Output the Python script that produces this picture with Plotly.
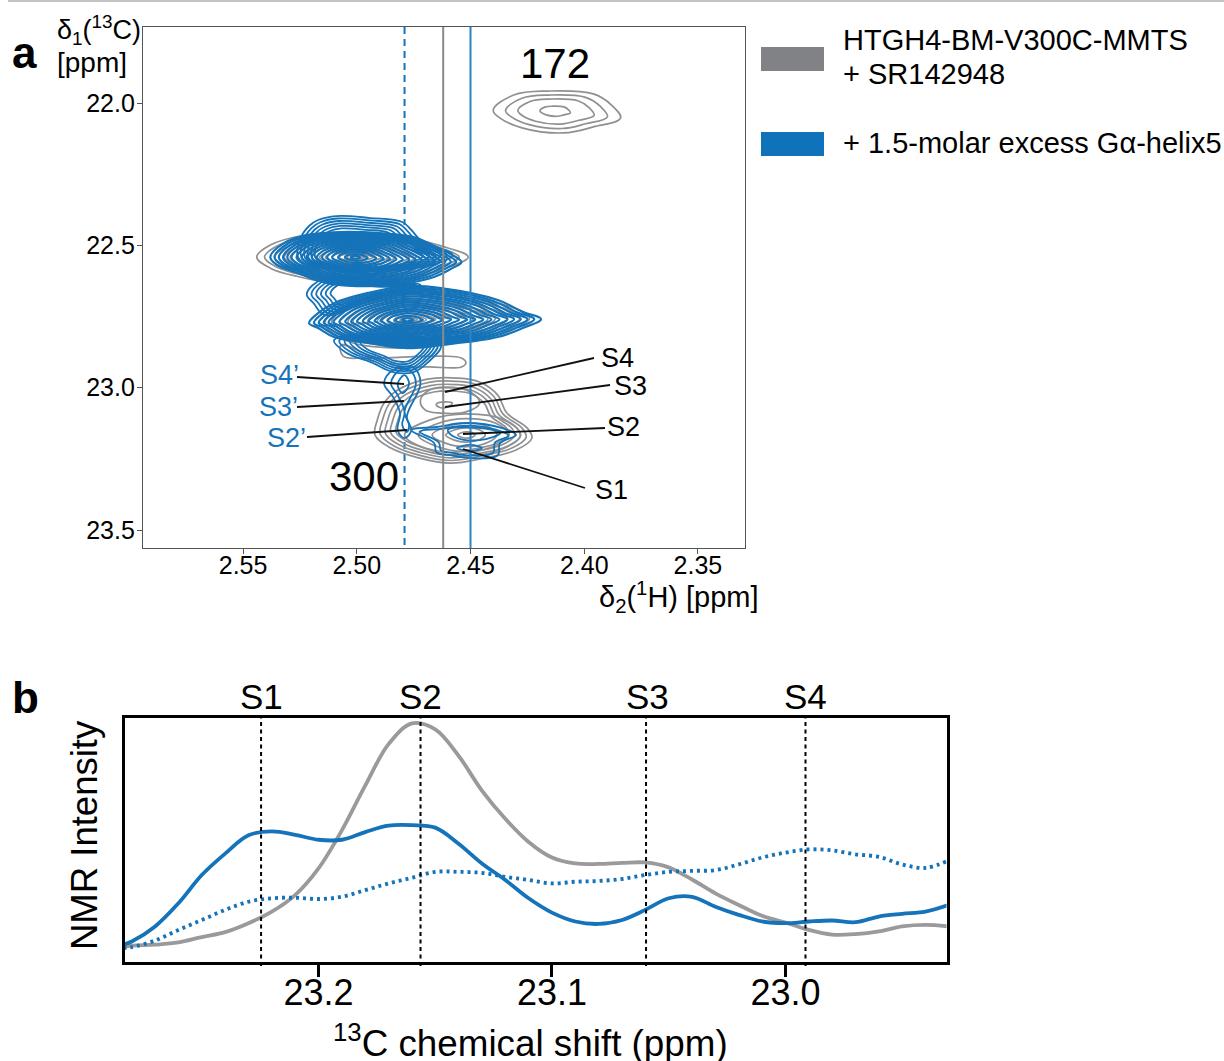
import plotly.graph_objects as go

W, H = 1224, 1061
GREY = "#8f9093"
BLUE = "#1473b9"
FONT = "Liberation Sans, Arial, sans-serif"

# ---------- panel b: 1D traces ----------
shift_ppm = [23.2837, 23.28, 23.27, 23.26, 23.25, 23.24, 23.23, 23.22, 23.21, 23.20,
             23.19, 23.18, 23.17, 23.16, 23.15, 23.14, 23.13, 23.12, 23.11, 23.10,
             23.09, 23.08, 23.07, 23.06, 23.05, 23.04, 23.03, 23.02, 23.01, 23.00,
             22.99, 22.98, 22.97, 22.96, 22.95, 22.94, 22.930]
grey_intensity = [6.4, 7.0, 7.4, 8.3, 10.5, 12.5, 16.1, 20.8, 27.5, 38.3,
                  53.7, 71.8, 88.6, 97.0, 94.6, 83.9, 69.8, 58.4, 49.0, 42.7,
                  40.3, 40.1, 40.5, 40.7, 38.7, 33.8, 28.2, 23.5, 19.1, 16.4,
                  13.4, 11.5, 11.7, 12.8, 14.8, 15.4, 14.8]
blue_intensity = [7.4, 8.7, 14.8, 24.2, 35.6, 44.3, 51.7, 53.3, 51.9, 49.9,
                  49.9, 53.0, 55.6, 55.8, 54.8, 48.3, 40.3, 33.6, 26.2, 20.4,
                  16.8, 15.8, 17.4, 21.5, 26.2, 26.8, 22.8, 19.5, 16.8, 16.1,
                  16.8, 17.2, 16.5, 18.8, 19.9, 20.8, 23.5]
dotted_intensity = [6.0, 6.4, 9.1, 13.4, 17.4, 21.5, 24.8, 26.2, 26.4, 25.9,
                    26.8, 29.5, 32.2, 34.5, 36.9, 36.9, 36.5, 34.9, 33.6, 32.2,
                    32.9, 33.2, 34.0, 35.6, 36.9, 37.3, 37.6, 39.9, 42.7, 44.7,
                    46.0, 45.6, 44.0, 43.0, 39.9, 38.5, 41.6]
site_names = ["S1", "S2", "S3", "S4"]
site_shifts = [23.2246, 23.1563, 23.0597, 22.9914]

# ---------- panel a: contour outlines ----------
body_levels = [1, .95, .90, .85, .80, .75, .69, .63, .57, .51, .45, .39, .33, .27, .20, .12, .05]
grey_body_levels = [1, .92, .82, .72, .66, .54, .48, .36, .30, .235, .16, .085]
wisp_levels = [1, .94, .88, .82, .76, .70]
mid_levels = [1, .92, .84, .76, .68, .60]
outer_s_levels = [1, .93, .86, .79, .72]
lower_s_levels = [1, .78, .56, .34, .15]
peak172_levels = [1, .8, .6, .24]
single = [1]

peak172_h = [2.440, 2.431, 2.416, 2.396, 2.388, 2.384, 2.396, 2.409, 2.427, 2.437]
peak172_c = [22.025, 21.972, 21.958, 21.968, 22.007, 22.053, 22.084, 22.105, 22.088, 22.053]

grey_a_h = [2.544, 2.538, 2.525, 2.503, 2.481, 2.463, 2.451, 2.461, 2.481, 2.503, 2.525, 2.538]
grey_a_c = [22.541, 22.499, 22.467, 22.453, 22.467, 22.502, 22.541, 22.580, 22.622, 22.639, 22.611, 22.580]
grey_b_h = [2.514, 2.505, 2.481, 2.455, 2.424, 2.455, 2.481, 2.505]
grey_b_c = [22.773, 22.710, 22.664, 22.674, 22.755, 22.840, 22.861, 22.833]
grey_tail_h = [2.507, 2.506, 2.496, 2.463, 2.454, 2.452, 2.454, 2.468, 2.481, 2.492]
grey_tail_c = [22.850, 22.889, 22.896, 22.889, 22.896, 22.913, 22.927, 22.927, 22.924, 22.896]
grey_s_h = [2.492, 2.491, 2.488, 2.482, 2.469, 2.456, 2.446, 2.438, 2.434, 2.425, 2.423, 2.430, 2.444, 2.459, 2.474, 2.485]
grey_s_c = [23.166, 23.114, 23.054, 23.008, 22.970, 22.966, 22.980, 23.026, 23.089, 23.142, 23.177, 23.219, 23.247, 23.265, 23.244, 23.212]
grey_low_h = [2.479, 2.468, 2.452, 2.435, 2.428, 2.435, 2.452, 2.468]
grey_low_c = [23.166, 23.114, 23.092, 23.114, 23.166, 23.212, 23.240, 23.219]
grey_up_h = [2.472, 2.468, 2.461, 2.450, 2.446, 2.452, 2.463, 2.470]
grey_up_c = [23.043, 23.008, 22.998, 23.015, 23.054, 23.085, 23.089, 23.078]
grey_s3_h = [2.465, 2.461, 2.458, 2.460, 2.464]
grey_s3_c = [23.057, 23.050, 23.054, 23.068, 23.068]

blue_a_h = [2.538, 2.532, 2.522, 2.507, 2.490, 2.475, 2.465, 2.458, 2.454, 2.458, 2.466, 2.481, 2.500, 2.515, 2.526, 2.535]
blue_a_c = [22.541, 22.492, 22.464, 22.453, 22.457, 22.471, 22.506, 22.534, 22.559, 22.580, 22.611, 22.636, 22.643, 22.629, 22.597, 22.569]
blue_b_h = [2.521, 2.517, 2.510, 2.495, 2.478, 2.463, 2.438, 2.427, 2.419, 2.427, 2.438, 2.463, 2.478, 2.495, 2.510, 2.517]
blue_b_c = [22.773, 22.738, 22.703, 22.667, 22.643, 22.650, 22.692, 22.734, 22.759, 22.790, 22.822, 22.850, 22.861, 22.843, 22.822, 22.790]
blue_top_h = [2.525, 2.521, 2.517, 2.509, 2.494, 2.480, 2.476, 2.472, 2.458, 2.481, 2.525]
blue_top_c = [22.481, 22.432, 22.411, 22.397, 22.404, 22.418, 22.446, 22.481, 22.534, 22.587, 22.552]
blue_mid_h = [2.514, 2.522, 2.519, 2.514, 2.494, 2.472, 2.488]
blue_mid_c = [22.615, 22.671, 22.703, 22.745, 22.692, 22.639, 22.632]
blue_low_h = [2.510, 2.505, 2.493, 2.484, 2.475, 2.469, 2.463, 2.481]
blue_low_c = [22.833, 22.875, 22.913, 22.945, 22.945, 22.913, 22.850, 22.815]
blue_col1_h = [2.484, 2.488, 2.484, 2.481, 2.482, 2.479, 2.476, 2.478, 2.472, 2.475]
blue_col1_c = [22.938, 22.984, 23.033, 23.089, 23.149, 23.177, 23.149, 23.103, 22.984, 22.931]
blue_col2_h = [2.481, 2.485, 2.482, 2.479, 2.480, 2.478, 2.477, 2.479, 2.474, 2.477]
blue_col2_c = [22.938, 22.984, 23.026, 23.085, 23.131, 23.156, 23.131, 23.085, 22.984, 22.938]
blue_col3_h = [2.479, 2.482, 2.480, 2.477]
blue_col3_c = [22.956, 22.987, 23.019, 22.987]
blue_blob_h = [2.476, 2.466, 2.465, 2.459, 2.450, 2.438, 2.437, 2.430, 2.436, 2.452, 2.465]
blue_blob_c = [23.149, 23.194, 23.226, 23.237, 23.247, 23.237, 23.194, 23.166, 23.142, 23.124, 23.138]
blue_in1_h = [2.460, 2.452, 2.437, 2.446, 2.457]
blue_in1_c = [23.149, 23.138, 23.159, 23.184, 23.173]
blue_in2_h = [2.456, 2.450, 2.445, 2.450]
blue_in2_c = [23.212, 23.201, 23.212, 23.222]

guide_dashed_h = 2.479
guide_grey_h = 2.462
guide_blue_h = 2.450


def px(x):
    return x / W


def py(y):
    return 1 - y / H


fig = go.Figure()


def contour(h, c, centre, levels, color, width):
    for s in levels:
        xs = [centre[0] + (v - centre[0]) * s for v in h] + [centre[0] + (h[0] - centre[0]) * s]
        ys = [centre[1] + (v - centre[1]) * s for v in c] + [centre[1] + (c[0] - centre[1]) * s]
        fig.add_trace(go.Scatter(x=xs, y=ys, mode="lines", xaxis="x", yaxis="y",
                                 line=dict(color=color, width=width, shape="spline", smoothing=1.1),
                                 showlegend=False, hoverinfo="skip"))


G, B, BB = 1.7, 1.8, 2.2
contour(peak172_h, peak172_c, (2.413, 22.028), peak172_levels, GREY, G)
contour(grey_a_h, grey_a_c, (2.5008, 22.542), grey_body_levels, GREY, G)
contour(grey_b_h, grey_b_c, (2.478, 22.762), grey_body_levels, GREY, G)
contour(grey_tail_h, grey_tail_c, (2.48, 22.9), single, GREY, G)
contour(grey_s_h, grey_s_c, (2.459, 23.131), outer_s_levels, GREY, G)
contour(grey_low_h, grey_low_c, (2.4515, 23.166), lower_s_levels, GREY, G)
contour(grey_up_h, grey_up_c, (2.461, 23.043), single, GREY, G)
contour(grey_s3_h, grey_s3_c, (2.461, 23.06), single, GREY, G)

contour(blue_top_h, blue_top_c, (2.5008, 22.542), wisp_levels, BLUE, B)
contour(blue_mid_h, blue_mid_c, (2.496, 22.664), mid_levels, BLUE, B)
contour(blue_low_h, blue_low_c, (2.481, 22.850), mid_levels, BLUE, B)
contour(blue_a_h, blue_a_c, (2.5008, 22.542), body_levels, BLUE, BB)
contour(blue_b_h, blue_b_c, (2.478, 22.762), body_levels, BLUE, BB)
contour(blue_col1_h, blue_col1_c, (2.48, 23.05), single, BLUE, B)
contour(blue_col2_h, blue_col2_c, (2.48, 23.05), single, BLUE, B)
contour(blue_col3_h, blue_col3_c, (2.48, 22.99), single, BLUE, B)
contour(blue_blob_h, blue_blob_c, (2.452, 23.184), [1, .85], BLUE, B)
contour(blue_in1_h, blue_in1_c, (2.45, 23.16), single, BLUE, B)
contour(blue_in2_h, blue_in2_c, (2.45, 23.21), single, BLUE, B)

# panel b curves
fig.add_trace(go.Scatter(x=shift_ppm, y=grey_intensity, mode="lines", xaxis="x2", yaxis="y2",
                         line=dict(color="#9a9a9c", width=3.8, shape="spline", smoothing=1.0),
                         showlegend=False, hoverinfo="skip"))
fig.add_trace(go.Scatter(x=shift_ppm, y=blue_intensity, mode="lines", xaxis="x2", yaxis="y2",
                         line=dict(color=BLUE, width=3.8, shape="spline", smoothing=1.0),
                         showlegend=False, hoverinfo="skip"))
fig.add_trace(go.Scatter(x=shift_ppm, y=dotted_intensity, mode="lines", xaxis="x2", yaxis="y2",
                         line=dict(color=BLUE, width=3.8, dash="3px,4px", shape="spline", smoothing=1.0),
                         showlegend=False, hoverinfo="skip"))

shapes = [
    dict(type="rect", xref="paper", yref="paper", x0=px(8), x1=1, y0=py(0), y1=py(2),
         fillcolor="#c4c4c4", line_width=0),
    # guide lines of panel a
    dict(type="line", xref="x", yref="paper", x0=guide_dashed_h, x1=guide_dashed_h, y0=py(27), y1=py(225),
         line=dict(color=BLUE, width=2, dash="7px,5px"), layer="below"),
    dict(type="line", xref="x", yref="paper", x0=guide_dashed_h, x1=guide_dashed_h, y0=py(442), y1=py(548),
         line=dict(color=BLUE, width=2, dash="7px,5px"), layer="below"),
    dict(type="line", xref="x", yref="paper", x0=guide_grey_h, x1=guide_grey_h, y0=py(27), y1=py(548),
         line=dict(color="#8a8a8a", width=2)),
    dict(type="line", xref="x", yref="paper", x0=guide_blue_h, x1=guide_blue_h, y0=py(27), y1=py(548),
         line=dict(color="#2b84c6", width=2)),
    # legend patches
    dict(type="rect", xref="paper", yref="paper", x0=px(761), x1=px(824), y0=py(71), y1=py(47),
         fillcolor="#808285", line_width=0),
    dict(type="rect", xref="paper", yref="paper", x0=px(761), x1=px(824), y0=py(156), y1=py(132),
         fillcolor="#1072ba", line_width=0),
]
# leader lines of panel a
for x0, y0, x1, y1 in [(594, 358, 445, 392), (610, 385, 445, 407), (605, 428, 463, 434),
                       (585, 488, 463, 449), (297, 377, 404, 384), (297, 407, 404, 401),
                       (307, 437, 407, 430)]:
    shapes.append(dict(type="line", xref="paper", yref="paper", x0=px(x0), y0=py(y0), x1=px(x1), y1=py(y1),
                       line=dict(color="#111111", width=1.8)))
# site markers of panel b
for s in site_shifts:
    shapes.append(dict(type="line", xref="x2", yref="paper", x0=s, x1=s, y0=py(966), y1=py(718),
                       line=dict(color="black", width=2, dash="4px,3.5px")))


def label(x, y, text, size, color="black", anchor="left", bold=False, angle=0):
    shift = 2 if anchor == "left" else 0
    return dict(xref="paper", yref="paper", x=px(x - shift), y=py(y), text=f"<b>{text}</b>" if bold else text,
                showarrow=False, xanchor=anchor, yanchor="middle", textangle=angle,
                font=dict(family=FONT, size=size, color=color))


annots = [
    label(12, 53, "a", 44, bold=True),
    label(12, 697, "b", 44, bold=True),
    label(57, 30, "δ<sub>1</sub>(<sup>13</sup>C)", 27),
    label(57, 62, "[ppm]", 28),
    label(599, 597, "δ<sub>2</sub>(<sup>1</sup>H) [ppm]", 29),
    label(520, 64, "172", 42),
    label(329, 476, "300", 42),
    label(843, 40, "HTGH4-BM-V300C-MMTS", 29),
    label(843, 74, "+ SR142948", 29),
    label(843, 143, "+ 1.5-molar excess Gα-helix5", 29),
    label(601, 358, "S4", 27),
    label(614, 386, "S3", 27),
    label(607, 427, "S2", 27),
    label(595, 490, "S1", 27),
    label(260, 375, "S4’", 27, BLUE),
    label(259, 407, "S3’", 27, BLUE),
    label(267, 438, "S2’", 27, BLUE),
    label(84, 835, "NMR Intensity", 36.5, anchor="center", angle=-90),
    label(530, 1041, "<sup>13</sup>C chemical shift (ppm)", 36.8, anchor="center"),
]
for name, x in zip(site_names, [261, 420.5, 647, 805.5]):
    annots.append(label(x, 696, name, 35, anchor="center"))

fig.update_layout(
    width=W, height=H, autosize=False, margin=dict(l=0, r=0, t=0, b=0),
    paper_bgcolor="white", plot_bgcolor="white", showlegend=False,
    font=dict(family=FONT, color="black"),
    shapes=shapes, annotations=annots,
    xaxis=dict(domain=[px(143), px(745)], range=[2.5940, 2.3293], anchor="y",
               tickvals=[2.55, 2.50, 2.45, 2.40, 2.35], ticktext=["2.55", "2.50", "2.45", "2.40", "2.35"],
               ticks="outside", ticklen=5, tickwidth=1.3, tickcolor="#555555", ticklabelstandoff=-10,
               showline=True, mirror=True, linecolor="#555555", linewidth=1.4,
               showgrid=False, zeroline=False, tickfont=dict(size=25)),
    yaxis=dict(domain=[py(548), py(27)], range=[23.563, 21.733], anchor="x",
               tickvals=[22.0, 22.5, 23.0, 23.5], ticktext=["22.0", "22.5", "23.0", "23.5"],
               ticks="outside", ticklen=5, tickwidth=1.3, tickcolor="#555555", ticklabelstandoff=-3,
               showline=True, mirror=True, linecolor="#555555", linewidth=1.4,
               showgrid=False, zeroline=False, tickfont=dict(size=25)),
    xaxis2=dict(domain=[px(124.5), px(946.5)], range=[23.2831, 22.931], anchor="y2",
                tickvals=[23.2, 23.1, 23.0], ticktext=["23.2", "23.1", "23.0"],
                ticks="outside", ticklen=12, tickwidth=2.5, tickcolor="black", ticklabelstandoff=-15,
                showline=True, mirror=True, linecolor="black", linewidth=3,
                showgrid=False, zeroline=False, tickfont=dict(size=36)),
    yaxis2=dict(domain=[py(961.5), py(717.5)], range=[0.6, 99.4], anchor="x2",
                showticklabels=False, ticks="",
                showline=True, mirror=True, linecolor="black", linewidth=3,
                showgrid=False, zeroline=False),
)

fig.write_html("out.html", config={"displayModeBar": False},
               post_script="document.body.style.margin='0';document.documentElement.style.overflow='hidden';")
